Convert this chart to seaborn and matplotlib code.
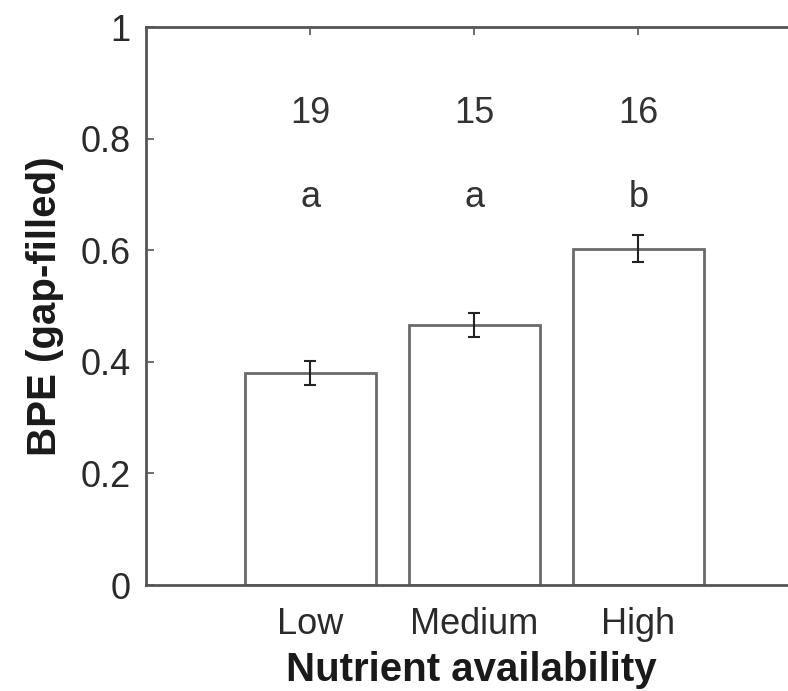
import matplotlib
matplotlib.use("Agg")
import matplotlib.pyplot as plt
import seaborn as sns
import pandas as pd

# values
levels = ["Low", "Medium", "High"]
bpe_mean = [0.380, 0.466, 0.603]
bpe_se = [0.022, 0.022, 0.025]
n_sites = ["19", "15", "16"]
groups = ["a", "a", "b"]

df = pd.DataFrame({"level": levels, "bpe": bpe_mean})

sns.set_style("ticks")
plt.rcParams['font.family'] = ['Liberation Sans', 'DejaVu Sans']

fig = plt.figure(figsize=(7.88, 6.91), dpi=100)
ax = fig.add_axes([0.1853, 0.1534, 0.8249, 0.8075])

sns.barplot(data=df, x="level", y="bpe", color="white", edgecolor="#6a6a6a",
            linewidth=2, width=0.8, errorbar=None, ax=ax)
ax.errorbar(range(len(levels)), bpe_mean, yerr=bpe_se, fmt="none",
            ecolor="#222222", elinewidth=1.5, capsize=4.5, capthick=1.5)

for i in range(len(levels)):
    ax.text(i, 0.845, n_sites[i], ha="center", va="center", fontsize=26, color="#333333")
    ax.text(i, 0.695, groups[i], ha="center", va="center", fontsize=26, color="#333333")

ax.set_xlim(-1, 2.96)
ax.set_ylim(0, 1)
ax.set_yticks([0, 0.2, 0.4, 0.6, 0.8, 1])
ax.set_yticklabels(["0", "0.2", "0.4", "0.6", "0.8", "1"])
for s in ax.spines.values():
    s.set_visible(True)
    s.set_color("#555555")
    s.set_linewidth(2)
ax.tick_params(direction="in", length=6, width=1.2, color="#555555",
               top=True, right=True, labelsize=26, labelcolor="#2a2a2a")
ax.tick_params(axis="y", pad=11)
ax.tick_params(axis="x", pad=16)
ax.set_xlabel("Nutrient availability", fontsize=29, fontweight="bold",
              color="#1a1a1a", labelpad=6)
ax.set_ylabel("BPE (gap-filled)", fontsize=29, fontweight="bold",
              color="#1a1a1a", labelpad=12)

fig.savefig("out.png", dpi=100)
